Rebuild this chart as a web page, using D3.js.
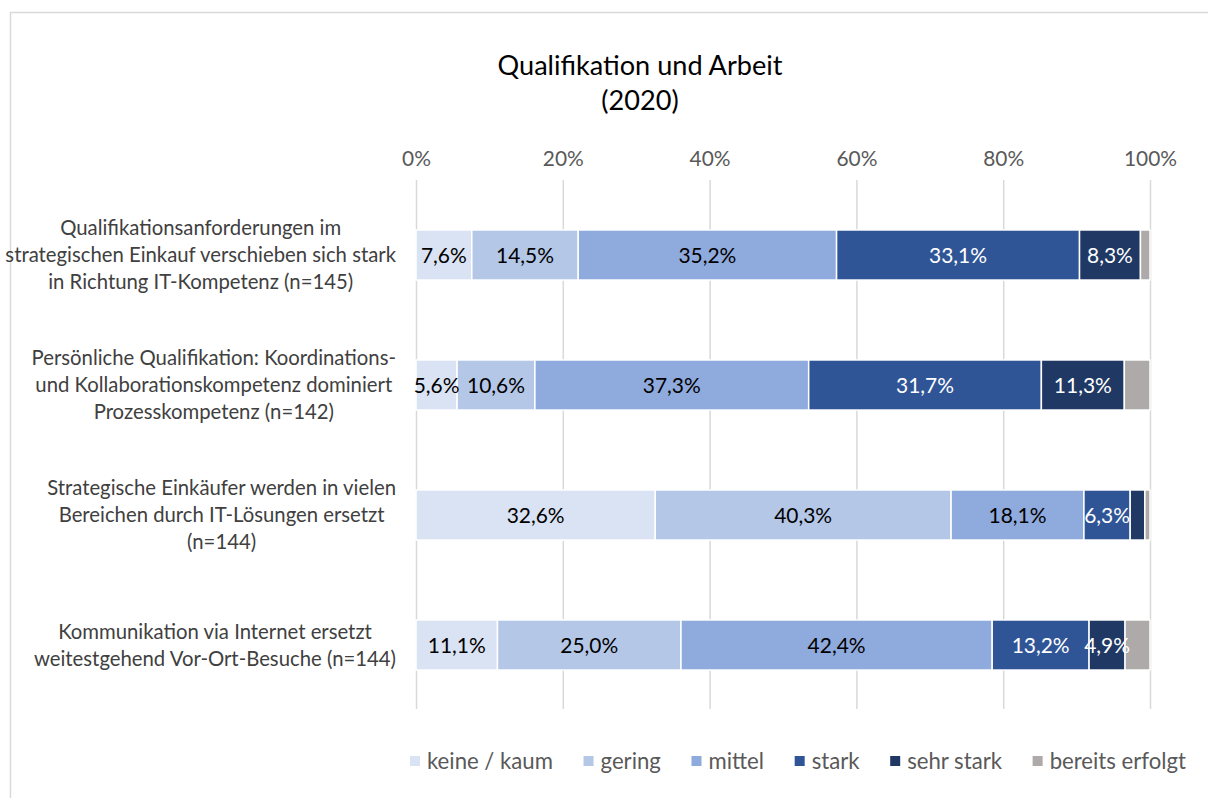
<!DOCTYPE html>
<html>
<head>
<meta charset="utf-8">
<script src="https://cdn.jsdelivr.net/npm/d3@7"></script>
<style>
  html, body { margin: 0; padding: 0; background: #ffffff; }
  svg { display: block; }
  text { font-family: Lato, "Open Sans", "Noto Sans", sans-serif; }
</style>
</head>
<body>
<svg id="chart" width="1208" height="798"></svg>
<script>
// ---- data ----
const titleLines = ["Qualifikation und Arbeit", "(2020)"];
const categories = [
  ["Qualifikationsanforderungen im", "strategischen Einkauf verschieben sich stark", "in Richtung IT-Kompetenz (n=145)"],
  ["Persönliche Qualifikation: Koordinations-", "und Kollaborationskompetenz dominiert", "Prozesskompetenz (n=142)"],
  ["Strategische Einkäufer werden in vielen", "Bereichen durch IT-Lösungen ersetzt", "(n=144)"],
  ["Kommunikation via Internet ersetzt", "weitestgehend Vor-Ort-Besuche (n=144)"]
];
const seriesNames = ["keine / kaum", "gering", "mittel", "stark", "sehr stark", "bereits erfolgt"];
const keineKaum      = [7.6, 5.6, 32.6, 11.1];
const gering         = [14.5, 10.6, 40.3, 25.0];
const mittel         = [35.2, 37.3, 18.1, 42.4];
const stark          = [33.1, 31.7, 6.3, 13.2];
const sehrStark      = [8.3, 11.3, 2.0, 4.9];
const bereitsErfolgt = [1.3, 3.5, 0.7, 3.4];
const tickValues = [0, 20, 40, 60, 80, 100];

const seriesValues = [keineKaum, gering, mittel, stark, sehrStark, bereitsErfolgt];
const colors = ["#DAE3F3", "#B4C7E7", "#8FAADC", "#2F5597", "#203864", "#AEAAAA"];
const labelColors = ["#000000", "#000000", "#000000", "#ffffff", "#ffffff", "#000000"];
const showLabels = [true, true, true, true, true, false];

// ---- layout ----
const svg = d3.select("#chart");
const xLeft = 416, xRight = 1150;
const x = d3.scaleLinear().domain([0, 100]).range([xLeft, xRight]);
const catIdx = categories.map((c, i) => i);
const y = d3.scaleBand().domain(catIdx).range([190, 710]).paddingInner(0.615).paddingOuter(0.3075);

// helper: font size so that a string has a target width
function fitSize(str, target) {
  const t = svg.append("text").attr("font-size", 20).text(str);
  const w = t.node().getComputedTextLength();
  t.remove();
  return 20 * target / w;
}

// frame
svg.append("rect").attr("x", 10.5).attr("y", 12.5).attr("width", 1300).attr("height", 900)
  .attr("fill", "none").attr("stroke", "#d9d9d9").attr("stroke-width", 1.5);

// title
const titleFont = fitSize(titleLines[0], 285);
svg.append("text").attr("x", 640).attr("y", 65).attr("dy", "0.36em").attr("text-anchor", "middle")
  .attr("font-size", titleFont).attr("fill", "#000000").text(titleLines[0]);
svg.append("text").attr("x", 640).attr("y", 100).attr("dy", "0.36em").attr("text-anchor", "middle")
  .attr("font-size", titleFont).attr("fill", "#000000").text(titleLines[1]);

// gridlines + tick labels via axis
const tickFont = fitSize("20%", 41);
const axis = d3.axisTop(x).tickValues(tickValues).tickFormat(d => d + "%").tickSize(-(709 - 180)).tickPadding(14);
const ag = svg.append("g").attr("transform", "translate(0,180)").call(axis);
ag.select(".domain").remove();
ag.selectAll(".tick line").attr("stroke", "#d9d9d9").attr("stroke-width", 1.5);
ag.selectAll(".tick text").attr("font-size", tickFont).attr("fill", "#595959")
  .attr("font-family", "Lato, 'Open Sans', sans-serif");

// stacked bars
const stacked = categories.map((c, i) => {
  let acc = 0;
  return seriesValues.map((vals, s) => {
    const v = vals[i];
    const seg = { cat: i, s, v, x0: acc, x1: acc + v };
    acc += v;
    return seg;
  });
});
const segs = stacked.flat();
svg.append("g").selectAll("rect").data(segs).join("rect")
  .attr("x", d => x(d.x0))
  .attr("y", d => y(d.cat))
  .attr("width", d => x(d.x1) - x(d.x0))
  .attr("height", y.bandwidth())
  .attr("fill", d => colors[d.s])
  .attr("stroke", "#ffffff").attr("stroke-width", 1.5);

// value labels
const fmt = v => v.toFixed(1).replace(".", ",") + "%";
const valFont = fitSize("35,2%", 58);
svg.append("g").selectAll("text").data(segs.filter(d => showLabels[d.s] && d.v >= 3)).join("text")
  .attr("x", d => (x(d.x0) + x(d.x1)) / 2)
  .attr("y", d => y(d.cat) + y.bandwidth() / 2)
  .attr("dy", "0.36em")
  .attr("text-anchor", "middle")
  .attr("font-size", valFont)
  .attr("fill", d => labelColors[d.s])
  .text(d => fmt(d.v));

// category labels (centered lines, block right edge at 396)
const catG = svg.append("g");
const catFont = fitSize(categories[0][1], 391);
const lineH = 27;
categories.forEach((lines, i) => {
  const widths = lines.map(l => {
    const t = catG.append("text").attr("font-size", catFont).text(l);
    const w = t.node().getComputedTextLength(); t.remove(); return w;
  });
  const W = d3.max(widths);
  const cx = 396 - W / 2;
  const cy = y(i) + y.bandwidth() / 2;
  lines.forEach((l, j) => {
    catG.append("text").attr("x", cx).attr("y", cy + (j - (lines.length - 1) / 2) * lineH)
      .attr("dy", "0.36em").attr("text-anchor", "middle")
      .attr("font-size", catFont).attr("fill", "#404040").text(l);
  });
});

// legend: spread between 410 and 1186
const legG = svg.append("g");
const legFont = fitSize(seriesNames[0], 126);
const legStart = 410, legEnd = 1186, symGap = 17;
const legWidths = seriesNames.map(n => {
  const t = legG.append("text").attr("font-size", legFont).text(n);
  const w = t.node().getComputedTextLength(); t.remove(); return w;
});
const itemGap = (legEnd - legStart - d3.sum(legWidths) - symGap * seriesNames.length) / (seriesNames.length - 1);
let lx = legStart;
seriesNames.forEach((name, s) => {
  legG.append("rect").attr("x", lx).attr("y", 756).attr("width", 10).attr("height", 10).attr("fill", colors[s]);
  legG.append("text").attr("x", lx + symGap).attr("y", 761).attr("dy", "0.36em")
    .attr("font-size", legFont).attr("fill", "#595959").text(name);
  lx += symGap + legWidths[s] + itemGap;
});
</script>
</body>
</html>
